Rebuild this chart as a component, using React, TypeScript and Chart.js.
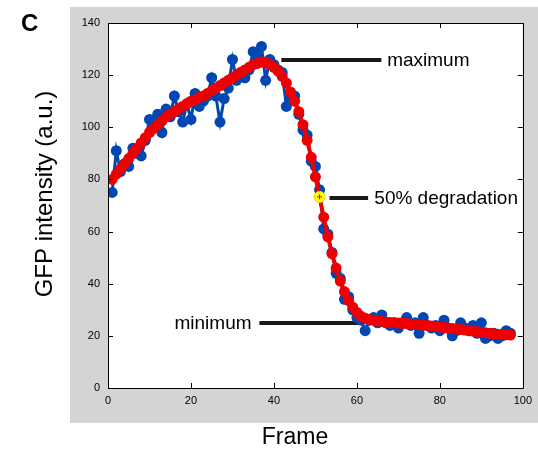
import { useEffect, useRef } from "react";
import { Chart, registerables } from "chart.js";

Chart.register(...registerables);

const frames: number[] = Array.from({ length: 97 }, (_, i) => i + 1);

const rawIntensity: number[] = [
  75, 91, 83, 86, 85, 92, 90, 89, 95, 103,
  100, 105, 98, 107, 104, 112, 106, 102, 109, 103,
  113, 108, 110, 112, 119, 112, 102, 111, 115, 126,
  118, 121, 119, 122, 129, 127, 131, 118, 126, 124,
  122, 121, 108, 111, 112, 105, 99, 97, 87, 85,
  76, 61, 59, 52, 44, 42, 34, 35, 30, 27,
  26, 22, 26, 27, 25, 28, 25, 24, 25, 23,
  25, 27, 24, 25, 21, 27, 24, 23, 24, 22,
  26, 23, 20, 22, 25, 23, 22, 24, 21, 25,
  19, 20, 21, 19, 20, 22, 21,
];

const smoothIntensity: number[] = [
  80, 82, 84, 86, 88, 90, 92, 94, 96, 98,
  99.5, 101, 102.5, 104, 105, 106, 107, 108, 109, 110,
  110.5, 111.5, 112, 113, 114, 115, 116, 117, 118, 119,
  120, 121, 122, 123, 124, 124.5, 125, 125, 124, 123,
  121.5, 119.5, 117, 113.5, 110, 106, 101, 95, 88.5, 81,
  73.3, 65.5, 58, 51.5, 46, 41, 37, 33.5, 31, 29,
  27.5, 26.8, 26.3, 26, 25.7, 25.5, 25.3, 25.1, 25, 24.9,
  24.8, 24.7, 24.5, 24.4, 24.2, 24.1, 24, 23.8, 23.6, 23.4,
  23.2, 23, 22.8, 22.6, 22.4, 22.2, 22, 21.8, 21.6, 21.4,
  21.2, 21, 20.8, 20.6, 20.5, 20.4, 20.3,
];

const halfFrame = 51;
const halfValue = 73.3;

const annotationLabels = ["maximum", "50% degradation", "minimum"];
const annotationLineX0 = [41.8, 53.4, 36.5];
const annotationLineX1 = [65.9, 62.7, 60.6];
const annotationY = [125.8, 72.9, 24.9];
const annotationTextX = [67.3, 64.2, 34.6];
const annotationAlign: CanvasTextAlign[] = ["left", "left", "right"];

const xTicks = [0, 20, 40, 60, 80, 100];
const yTicks = [0, 20, 40, 60, 80, 100, 120, 140];

const xTitle = "Frame";
const yTitle = "GFP intensity (a.u.)";
const panelLabel = "C";

const BLUE = "#0047b4";
const RED = "#ee0000";
const FONT = "Arial, 'Liberation Sans', sans-serif";

const decorPlugin = {
  id: "decor",
  beforeDraw(chart: any) {
    const { ctx, chartArea } = chart;
    ctx.save();
    ctx.fillStyle = "#ffffff";
    ctx.fillRect(0, 0, chart.width, chart.height);
    ctx.fillStyle = "#d4d4d4";
    ctx.fillRect(70, 7, chart.width - 70, 416);
    ctx.fillStyle = "#ffffff";
    ctx.fillRect(chartArea.left, chartArea.top, chartArea.right - chartArea.left, chartArea.bottom - chartArea.top);
    ctx.restore();
  },
  afterDatasetsDraw(chart: any) {
    const { ctx, chartArea, scales } = chart;
    const { left, right, top, bottom } = chartArea;
    ctx.save();
    ctx.strokeStyle = "#000000";
    ctx.lineWidth = 1;
    ctx.beginPath();
    ctx.rect(Math.round(left) + 0.5, Math.round(top) + 0.5, Math.round(right - left), Math.round(bottom - top));
    ctx.stroke();
    const tl = 5;
    ctx.beginPath();
    for (const t of xTicks) {
      const x = Math.round(scales.x.getPixelForValue(t)) + 0.5;
      ctx.moveTo(x, bottom);
      ctx.lineTo(x, bottom - tl);
      ctx.moveTo(x, top);
      ctx.lineTo(x, top + tl);
    }
    for (const t of yTicks) {
      const y = Math.round(scales.y.getPixelForValue(t)) + 0.5;
      ctx.moveTo(left, y);
      ctx.lineTo(left + tl, y);
      ctx.moveTo(right, y);
      ctx.lineTo(right - tl, y);
    }
    ctx.stroke();

    // annotation labels
    ctx.fillStyle = "#000000";
    ctx.font = `19px ${FONT}`;
    ctx.textBaseline = "middle";
    annotationLabels.forEach((lab, i) => {
      ctx.textAlign = annotationAlign[i];
      ctx.fillText(lab, scales.x.getPixelForValue(annotationTextX[i]), scales.y.getPixelForValue(annotationY[i]) + 1);
    });

    // axis titles
    ctx.font = `23px ${FONT}`;
    ctx.textAlign = "center";
    ctx.fillText(xTitle, 295, 438);
    ctx.save();
    ctx.font = `24px ${FONT}`;
    ctx.translate(45, 194);
    ctx.rotate(-Math.PI / 2);
    ctx.fillText(yTitle, 0, 0);
    ctx.restore();

    ctx.font = `bold 24px ${FONT}`;
    ctx.textAlign = "left";
    ctx.textBaseline = "alphabetic";
    ctx.fillText(panelLabel, 21, 31);
    ctx.restore();
  },
};

export default function App() {
  const ref = useRef<HTMLCanvasElement | null>(null);

  useEffect(() => {
    if (!ref.current) return;
    const raw = frames.map((f, i) => ({ x: f, y: rawIntensity[i] }));
    const smooth = frames.map((f, i) => ({ x: f, y: smoothIntensity[i] }));
    const annDatasets = annotationLabels.map((lab, i) => ({
      label: lab,
      data: [
        { x: annotationLineX0[i], y: annotationY[i] },
        { x: annotationLineX1[i], y: annotationY[i] },
      ],
      borderColor: "#1a1a1a",
      borderWidth: 4,
      pointRadius: 0,
      borderCapStyle: "butt" as const,
    }));
    const chart = new Chart(ref.current, {
      type: "line",
      data: {
        datasets: [
          {
            label: "half-cross",
            data: [{ x: halfFrame, y: halfValue }],
            showLine: false,
            pointStyle: "cross",
            pointRadius: 2.5,
            borderColor: RED,
            pointBorderColor: RED,
            pointBorderWidth: 1,
          },
          {
            label: "half",
            data: [{ x: halfFrame, y: halfValue }],
            showLine: false,
            pointRadius: 5.5,
            pointBackgroundColor: "#ffff00",
            pointBorderColor: "#e8e800",
            pointBorderWidth: 1,
          },
          {
            label: "smooth",
            data: smooth,
            borderColor: RED,
            borderWidth: 4,
            pointRadius: 5.5,
            pointBackgroundColor: RED,
            pointBorderWidth: 0,
            tension: 0,
          },
          {
            label: "raw",
            data: raw,
            borderColor: BLUE,
            borderWidth: 3,
            pointRadius: 5.5,
            pointBackgroundColor: BLUE,
            pointBorderWidth: 0,
            tension: 0,
          },
          ...annDatasets,
        ],
      },
      options: {
        animation: false,
        responsive: false,
        devicePixelRatio: 1,
        layout: { padding: { left: 70, top: 23, right: 14, bottom: 0 } },
        plugins: { legend: { display: false }, tooltip: { enabled: false } },
        scales: {
          x: {
            type: "linear",
            min: 0,
            max: 100,
            grid: { display: false, drawTicks: false },
            border: { display: false },
            ticks: {
              stepSize: 20,
              color: "#000000",
              padding: 6,
              maxRotation: 0,
              font: { family: FONT, size: 11 },
            },
            afterFit: (s: any) => {
              s.height = 67;
            },
          },
          y: {
            type: "linear",
            min: 0,
            max: 140,
            grid: { display: false, drawTicks: false },
            border: { display: false },
            ticks: {
              stepSize: 20,
              color: "#000000",
              padding: 8,
              font: { family: FONT, size: 11 },
            },
            afterFit: (s: any) => {
              s.width = 38;
            },
          },
        },
      },
      plugins: [decorPlugin],
    });
    return () => chart.destroy();
  }, []);

  return (
    <div style={{ position: "absolute", left: 0, top: 0, width: 538, height: 455 }}>
      <canvas ref={ref} width={538} height={455} style={{ display: "block" }} />
    </div>
  );
}
